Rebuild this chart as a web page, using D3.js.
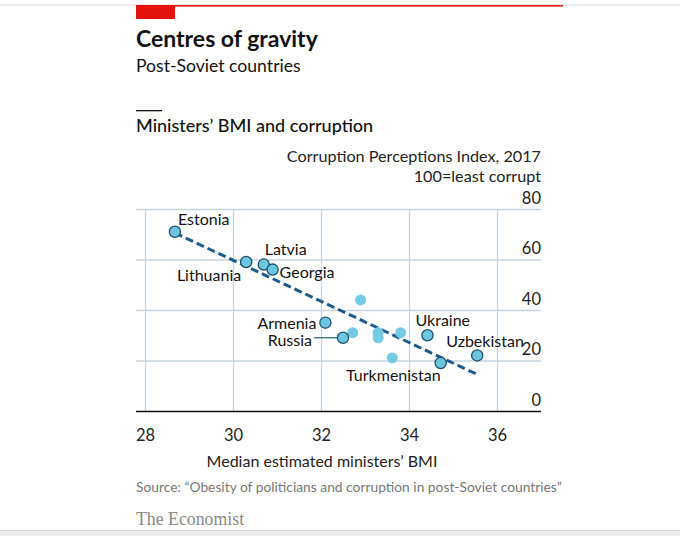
<!DOCTYPE html>
<html>
<head>
<meta charset="utf-8">
<script src="https://cdn.jsdelivr.net/npm/d3@7"></script>
<style>
  html, body { margin: 0; padding: 0; background: #fff; }
  svg { display: block; }
  text { font-family: Lato, "Open Sans", sans-serif; }
</style>
</head>
<body>
<svg id="chart" width="680" height="536"></svg>
<script>
// ---- data ----
const labeledCountries = ["Estonia", "Lithuania", "Latvia", "Georgia", "Armenia", "Russia", "Ukraine", "Uzbekistan", "Turkmenistan"];
const labeledBMI = [28.68, 30.3, 30.7, 30.9, 32.1, 32.5, 34.42, 35.55, 34.72];
const labeledCPI = [71, 59, 58, 56, 35, 29, 30, 22, 19];
const otherCountries = ["Belarus", "Moldova", "Azerbaijan", "Kyrgyzstan", "Kazakhstan", "Tajikistan"];
const otherBMI = [32.9, 32.72, 33.3, 33.3, 33.81, 33.62];
const otherCPI = [44, 31, 31, 29, 31, 21];
const trendBMI = [28.68, 35.55];
const trendCPI = [70.5, 14.5];
const xTicks = [28, 30, 32, 34, 36];
const yTicks = [0, 20, 40, 60, 80];

// ---- label layout (presentation only) ----
const labelLayout = {
  "Estonia":      {dx: 3,   dy: -13, anchor: "start"},
  "Latvia":       {dx: 1,   dy: -16, anchor: "start"},
  "Lithuania":    {dx: -5,  dy: 13,  anchor: "end"},
  "Georgia":      {dx: 7,   dy: 2,   anchor: "start"},
  "Armenia":      {dx: -9,  dy: 0,   anchor: "end"},
  "Russia":       {dx: -31, dy: 2,   anchor: "end", leader: true},
  "Ukraine":      {dx: -12, dy: -15, anchor: "start"},
  "Uzbekistan":   {dx: -31, dy: -14, anchor: "start"},
  "Turkmenistan": {dx: 0,   dy: 12,  anchor: "end"}
};

const svg = d3.select("#chart");

// top rules
svg.append("rect").attr("x", 0).attr("y", 4.5).attr("width", 680).attr("height", 1).attr("fill", "#d6d6d6");
svg.append("rect").attr("x", 136).attr("y", 5).attr("width", 427).attr("height", 1.6).attr("fill", "#e3120b");
svg.append("rect").attr("x", 136).attr("y", 6).attr("width", 39).attr("height", 13).attr("fill", "#e3120b");

// bottom band
svg.append("rect").attr("x", 0).attr("y", 530).attr("width", 680).attr("height", 6).attr("fill", "#ececec");
svg.append("rect").attr("x", 0).attr("y", 530).attr("width", 680).attr("height", 1).attr("fill", "#d4d4d4");

// titles
svg.append("text").attr("x", 136).attr("y", 47).text("Centres of gravity")
  .attr("font-size", 23).attr("font-weight", 700).attr("fill", "#121212");
svg.append("text").attr("x", 136).attr("y", 72).text("Post-Soviet countries")
  .attr("font-size", 17.6).attr("fill", "#121212");
svg.append("rect").attr("x", 136).attr("y", 110).attr("width", 26).attr("height", 1.3).attr("fill", "#121212");
svg.append("text").attr("x", 136).attr("y", 132).text("Ministers’ BMI and corruption")
  .attr("font-size", 18).attr("font-weight", 500).attr("fill", "#121212");

// scales
const x = d3.scaleLinear().domain([28, 36]).range([145, 497]);
const y = d3.scaleLinear().domain([0, 80]).range([411, 209]);
const left = 136, right = 541;

// axis titles
svg.append("text").attr("x", right).attr("y", 162).attr("text-anchor", "end")
  .text("Corruption Perceptions Index, 2017").attr("font-size", 16.2).attr("fill", "#222");
svg.append("text").attr("x", right).attr("y", 182).attr("text-anchor", "end")
  .text("100=least corrupt").attr("font-size", 16.2).attr("fill", "#222");

// vertical grid via axis
const xg = svg.append("g").attr("transform", `translate(0,${y(0)})`)
  .call(d3.axisBottom(x).tickValues(xTicks).tickSize(-(y(0) - y(80))).tickFormat(d => d).tickPadding(18));
xg.select(".domain").remove();
xg.selectAll(".tick line").attr("stroke", "#c6d3dc").attr("stroke-width", 1.3);
xg.selectAll(".tick text").attr("font-size", 16.5).attr("fill", "#222");

// horizontal grid via axis
const yg = svg.append("g").attr("transform", `translate(${right},0)`)
  .call(d3.axisRight(y).tickValues(yTicks).tickSize(-(right - left)).tickFormat(d => d));
yg.select(".domain").remove();
yg.selectAll(".tick line").attr("stroke", d => d === 0 ? "#121212" : "#c6d3dc")
  .attr("stroke-width", d => d === 0 ? 1.5 : 1.3);
yg.selectAll(".tick text").attr("x", 0).attr("dy", -10).attr("text-anchor", "end")
  .attr("font-size", 16.5).attr("fill", "#222")
  .attr("transform", "translate(0,4)");

// x title
svg.append("text").attr("x", 322).attr("y", 467).attr("text-anchor", "middle")
  .text("Median estimated ministers’ BMI").attr("font-size", 16).attr("fill", "#222");

// trend line
const trend = trendBMI.map((b, i) => [b, trendCPI[i]]);
svg.append("path").datum(trend)
  .attr("d", d3.line().x(d => x(d[0])).y(d => y(d[1])))
  .attr("fill", "none").attr("stroke", "#1d5b8c").attr("stroke-width", 3)
  .attr("stroke-dasharray", "8,4");

// unlabeled points
const others = otherCountries.map((c, i) => ({c, b: otherBMI[i], v: otherCPI[i]}));
svg.append("g").selectAll("circle").data(others).join("circle")
  .attr("cx", d => x(d.b)).attr("cy", d => y(d.v)).attr("r", 5.5)
  .attr("fill", "#74cbe3");

// labeled points
const labeled = labeledCountries.map((c, i) => ({c, b: labeledBMI[i], v: labeledCPI[i]}));
// leader lines
svg.append("g").selectAll("line").data(labeled.filter(d => labelLayout[d.c].leader)).join("line")
  .attr("x1", d => x(d.b) + labelLayout[d.c].dx + 2).attr("x2", d => x(d.b) - 6)
  .attr("y1", d => y(d.v)).attr("y2", d => y(d.v))
  .attr("stroke", "#1d5b7a").attr("stroke-width", 1.2);
svg.append("g").selectAll("circle").data(labeled).join("circle")
  .attr("cx", d => x(d.b)).attr("cy", d => y(d.v)).attr("r", 5.6)
  .attr("fill", "#6cc6e0").attr("stroke", "#1d4f6c").attr("stroke-width", 1.3);
svg.append("g").selectAll("text").data(labeled).join("text")
  .attr("x", d => x(d.b) + labelLayout[d.c].dx)
  .attr("y", d => y(d.v) + labelLayout[d.c].dy + 6)
  .attr("text-anchor", d => labelLayout[d.c].anchor)
  .text(d => d.c).attr("font-size", 16).attr("fill", "#121212");

// source
svg.append("text").attr("x", 136).attr("y", 492)
  .text("Source: “Obesity of politicians and corruption in post-Soviet countries”")
  .attr("font-size", 13.8).attr("fill", "#777");
svg.append("text").attr("x", 136).attr("y", 525).text("The Economist")
  .style("font-family", "'Liberation Serif', 'DejaVu Serif', serif")
  .attr("font-size", 17.8).attr("fill", "#888");
</script>
</body>
</html>
